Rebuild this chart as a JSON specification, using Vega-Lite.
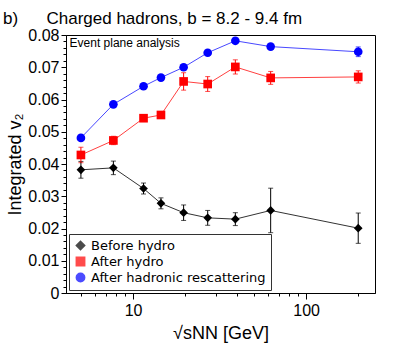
{
  "$schema": "https://vega.github.io/schema/vega-lite/v6.json",
  "width": 309,
  "height": 258,
  "autosize": {"type": "none"},
  "padding": {"left": 66, "top": 35, "right": 23, "bottom": 55},
  "background": "white",
  "title": {
    "text": "b)\u00a0\u00a0\u00a0\u00a0\u00a0\u00a0Charged hadrons, b = 8.2 - 9.4 fm",
    "anchor": "start",
    "frame": "group",
    "dx": -63,
    "dy": 11,
    "offset": 10,
    "fontSize": 17,
    "fontWeight": "normal",
    "font": "Liberation Sans",
    "color": "black"
  },
  "config": {
    "font": "Liberation Sans",
    "view": {"stroke": "black", "strokeWidth": 1},
    "axis": {"domainColor": "black", "tickColor": "black", "labelColor": "black", "titleColor": "black", "grid": false}
  },
  "data": {
    "values": [
      {"series": "Before hydro", "s": 5, "v": 0.0382, "lo": 0.0356, "hi": 0.0408},
      {"series": "Before hydro", "s": 7.7, "v": 0.0388, "lo": 0.0367, "hi": 0.0409},
      {"series": "Before hydro", "s": 11.5, "v": 0.0324, "lo": 0.0307, "hi": 0.0341},
      {"series": "Before hydro", "s": 14.5, "v": 0.0278, "lo": 0.0261, "hi": 0.0295},
      {"series": "Before hydro", "s": 19.6, "v": 0.0249, "lo": 0.0225, "hi": 0.0273},
      {"series": "Before hydro", "s": 27, "v": 0.0233, "lo": 0.021, "hi": 0.0256},
      {"series": "Before hydro", "s": 39, "v": 0.0229, "lo": 0.0209, "hi": 0.0249},
      {"series": "Before hydro", "s": 62.4, "v": 0.0256, "lo": 0.0187, "hi": 0.0325},
      {"series": "Before hydro", "s": 200, "v": 0.0201, "lo": 0.0154, "hi": 0.0248},
      {"series": "After hydro", "s": 5, "v": 0.0428, "lo": 0.0404, "hi": 0.0452},
      {"series": "After hydro", "s": 7.7, "v": 0.0473, "lo": 0.046, "hi": 0.0486},
      {"series": "After hydro", "s": 11.5, "v": 0.0542, "lo": 0.0536, "hi": 0.0548},
      {"series": "After hydro", "s": 14.5, "v": 0.0552, "lo": 0.0546, "hi": 0.0558},
      {"series": "After hydro", "s": 19.6, "v": 0.0656, "lo": 0.0629, "hi": 0.0683},
      {"series": "After hydro", "s": 27, "v": 0.0648, "lo": 0.0625, "hi": 0.0671},
      {"series": "After hydro", "s": 39, "v": 0.0701, "lo": 0.0679, "hi": 0.0723},
      {"series": "After hydro", "s": 62.4, "v": 0.0667, "lo": 0.0647, "hi": 0.0687},
      {"series": "After hydro", "s": 200, "v": 0.067, "lo": 0.0651, "hi": 0.0689},
      {"series": "After hadronic rescattering", "s": 5, "v": 0.0481, "lo": 0.0476, "hi": 0.0486},
      {"series": "After hadronic rescattering", "s": 7.7, "v": 0.0585, "lo": 0.058, "hi": 0.059},
      {"series": "After hadronic rescattering", "s": 11.5, "v": 0.0641, "lo": 0.0636, "hi": 0.0646},
      {"series": "After hadronic rescattering", "s": 14.5, "v": 0.0668, "lo": 0.0663, "hi": 0.0673},
      {"series": "After hadronic rescattering", "s": 19.6, "v": 0.07, "lo": 0.0695, "hi": 0.0705},
      {"series": "After hadronic rescattering", "s": 27, "v": 0.0745, "lo": 0.074, "hi": 0.075},
      {"series": "After hadronic rescattering", "s": 39, "v": 0.0782, "lo": 0.0777, "hi": 0.0787},
      {"series": "After hadronic rescattering", "s": 62.4, "v": 0.0764, "lo": 0.0759, "hi": 0.0769},
      {"series": "After hadronic rescattering", "s": 200, "v": 0.0748, "lo": 0.0733, "hi": 0.0763}
    ]
  },
  "layer": [
    {
      "mark": {"type": "line", "strokeWidth": 1},
      "encoding": {
        "x": {
          "field": "s", "type": "quantitative",
          "scale": {"type": "log", "domain": [4.1, 250], "nice": false},
          "axis": {
            "orient": "bottom", "title": "√sNN [GeV]",
            "titleFontSize": 18, "titleFontWeight": "normal", "titlePadding": 6,
            "labelFontSize": 16, "labelPadding": 3,
            "values": [5, 6, 7, 8, 9, 10, 20, 30, 40, 50, 60, 70, 80, 90, 100, 200],
            "labelExpr": "datum.value == 10 || datum.value == 100 ? datum.value : ''",
            "tickSize": {"condition": {"test": "datum.value == 10 || datum.value == 100", "value": 6}, "value": 3},
            "labelOverlap": false
          }
        },
        "y": {
          "field": "v", "type": "quantitative",
          "scale": {"domain": [0, 0.08], "nice": false, "zero": false},
          "axis": {
            "orient": "left", "title": "Integrated v₂",
            "titleFontSize": 18, "titleFontWeight": "normal", "titlePadding": 3,
            "labelFontSize": 16, "labelPadding": 2,
            "values": [0, 0.002, 0.004, 0.006, 0.008, 0.01, 0.012, 0.014, 0.016, 0.018, 0.02, 0.022, 0.024, 0.026, 0.028, 0.03, 0.032, 0.034, 0.036, 0.038, 0.04, 0.042, 0.044, 0.046, 0.048, 0.05, 0.052, 0.054, 0.056, 0.058, 0.06, 0.062, 0.064, 0.066, 0.068, 0.07, 0.072, 0.074, 0.076, 0.078, 0.08],
            "labelExpr": "abs(datum.value*100 - round(datum.value*100)) < 0.001 ? (datum.value == 0 ? '0' : format(datum.value, '.2f')) : ''",
            "tickSize": {"condition": {"test": "abs(datum.value*100 - round(datum.value*100)) < 0.001", "value": 5}, "value": 3},
            "labelOverlap": false
          }
        },
        "stroke": {
          "field": "series", "type": "nominal", "legend": null,
          "scale": {"range": ["#4848ff", "#ff4040", "#333333"]}
        },
        "detail": {"field": "series"}
      }
    },
    {
      "mark": {"type": "errorbar", "ticks": {"size": 5}, "thickness": 1},
      "encoding": {
        "x": {
          "field": "s", "type": "quantitative",
          "scale": {"type": "log", "domain": [4.1, 250], "nice": false},
          "axis": {
            "orient": "bottom", "title": "√sNN [GeV]",
            "titleFontSize": 18, "titleFontWeight": "normal", "titlePadding": 6,
            "labelFontSize": 16, "labelPadding": 3,
            "values": [5, 6, 7, 8, 9, 10, 20, 30, 40, 50, 60, 70, 80, 90, 100, 200],
            "labelExpr": "datum.value == 10 || datum.value == 100 ? datum.value : ''",
            "tickSize": {"condition": {"test": "datum.value == 10 || datum.value == 100", "value": 6}, "value": 3},
            "labelOverlap": false
          }
        },
        "y": {
          "field": "lo", "type": "quantitative",
          "scale": {"domain": [0, 0.08], "nice": false, "zero": false},
          "axis": {
            "orient": "left", "title": "Integrated v₂",
            "titleFontSize": 18, "titleFontWeight": "normal", "titlePadding": 3,
            "labelFontSize": 16, "labelPadding": 2,
            "values": [0, 0.002, 0.004, 0.006, 0.008, 0.01, 0.012, 0.014, 0.016, 0.018, 0.02, 0.022, 0.024, 0.026, 0.028, 0.03, 0.032, 0.034, 0.036, 0.038, 0.04, 0.042, 0.044, 0.046, 0.048, 0.05, 0.052, 0.054, 0.056, 0.058, 0.06, 0.062, 0.064, 0.066, 0.068, 0.07, 0.072, 0.074, 0.076, 0.078, 0.08],
            "labelExpr": "abs(datum.value*100 - round(datum.value*100)) < 0.001 ? (datum.value == 0 ? '0' : format(datum.value, '.2f')) : ''",
            "tickSize": {"condition": {"test": "abs(datum.value*100 - round(datum.value*100)) < 0.001", "value": 5}, "value": 3},
            "labelOverlap": false
          }
        },
        "y2": {"field": "hi"},
        "color": {
          "field": "series", "type": "nominal",
          "scale": {"domain": ["Before hydro", "After hydro", "After hadronic rescattering"], "range": ["black", "#ff0000", "#0000ff"]}
        }
      }
    },
    {
      "mark": {"type": "point", "filled": true, "opacity": 1, "size": 75},
      "encoding": {
        "x": {
          "field": "s", "type": "quantitative",
          "scale": {"type": "log", "domain": [4.1, 250], "nice": false},
          "axis": {
            "orient": "bottom", "title": "√sNN [GeV]",
            "titleFontSize": 18, "titleFontWeight": "normal", "titlePadding": 6,
            "labelFontSize": 16, "labelPadding": 3,
            "values": [5, 6, 7, 8, 9, 10, 20, 30, 40, 50, 60, 70, 80, 90, 100, 200],
            "labelExpr": "datum.value == 10 || datum.value == 100 ? datum.value : ''",
            "tickSize": {"condition": {"test": "datum.value == 10 || datum.value == 100", "value": 6}, "value": 3},
            "labelOverlap": false
          }
        },
        "y": {
          "field": "v", "type": "quantitative",
          "scale": {"domain": [0, 0.08], "nice": false, "zero": false},
          "axis": {
            "orient": "left", "title": "Integrated v₂",
            "titleFontSize": 18, "titleFontWeight": "normal", "titlePadding": 3,
            "labelFontSize": 16, "labelPadding": 2,
            "values": [0, 0.002, 0.004, 0.006, 0.008, 0.01, 0.012, 0.014, 0.016, 0.018, 0.02, 0.022, 0.024, 0.026, 0.028, 0.03, 0.032, 0.034, 0.036, 0.038, 0.04, 0.042, 0.044, 0.046, 0.048, 0.05, 0.052, 0.054, 0.056, 0.058, 0.06, 0.062, 0.064, 0.066, 0.068, 0.07, 0.072, 0.074, 0.076, 0.078, 0.08],
            "labelExpr": "abs(datum.value*100 - round(datum.value*100)) < 0.001 ? (datum.value == 0 ? '0' : format(datum.value, '.2f')) : ''",
            "tickSize": {"condition": {"test": "abs(datum.value*100 - round(datum.value*100)) < 0.001", "value": 5}, "value": 3},
            "labelOverlap": false
          }
        },
        "color": {
          "field": "series", "type": "nominal",
          "scale": {"domain": ["Before hydro", "After hydro", "After hadronic rescattering"], "range": ["black", "#ff0000", "#0000ff"]},
          "legend": {
            "orient": "bottom-left", "title": null, "offset": 3,
            "labelFontSize": 13, "labelFont": "DejaVu Sans", "labelColor": "black",
            "labelLimit": 300,
            "strokeColor": "#333333", "padding": 5, "rowPadding": 1,
            "symbolSize": 70
          }
        },
        "shape": {
          "field": "series", "type": "nominal",
          "scale": {"domain": ["Before hydro", "After hydro", "After hadronic rescattering"], "range": ["diamond", "square", "circle"]}
        }
      }
    },
    {
      "data": {"values": [{"label": "Event plane analysis"}]},
      "mark": {"type": "text", "align": "left", "baseline": "middle", "fontSize": 12, "color": "black"},
      "encoding": {
        "x": {
          "datum": 4.3, "type": "quantitative",
          "scale": {"type": "log", "domain": [4.1, 250], "nice": false},
          "axis": {
            "orient": "bottom", "title": "√sNN [GeV]",
            "titleFontSize": 18, "titleFontWeight": "normal", "titlePadding": 6,
            "labelFontSize": 16, "labelPadding": 3,
            "values": [5, 6, 7, 8, 9, 10, 20, 30, 40, 50, 60, 70, 80, 90, 100, 200],
            "labelExpr": "datum.value == 10 || datum.value == 100 ? datum.value : ''",
            "tickSize": {"condition": {"test": "datum.value == 10 || datum.value == 100", "value": 6}, "value": 3},
            "labelOverlap": false
          }
        },
        "y": {
          "datum": 0.0775, "type": "quantitative",
          "scale": {"domain": [0, 0.08], "nice": false, "zero": false},
          "axis": {
            "orient": "left", "title": "Integrated v₂",
            "titleFontSize": 18, "titleFontWeight": "normal", "titlePadding": 3,
            "labelFontSize": 16, "labelPadding": 2,
            "values": [0, 0.002, 0.004, 0.006, 0.008, 0.01, 0.012, 0.014, 0.016, 0.018, 0.02, 0.022, 0.024, 0.026, 0.028, 0.03, 0.032, 0.034, 0.036, 0.038, 0.04, 0.042, 0.044, 0.046, 0.048, 0.05, 0.052, 0.054, 0.056, 0.058, 0.06, 0.062, 0.064, 0.066, 0.068, 0.07, 0.072, 0.074, 0.076, 0.078, 0.08],
            "labelExpr": "abs(datum.value*100 - round(datum.value*100)) < 0.001 ? (datum.value == 0 ? '0' : format(datum.value, '.2f')) : ''",
            "tickSize": {"condition": {"test": "abs(datum.value*100 - round(datum.value*100)) < 0.001", "value": 5}, "value": 3},
            "labelOverlap": false
          }
        },
        "text": {"field": "label"}
      }
    }
  ]
}
